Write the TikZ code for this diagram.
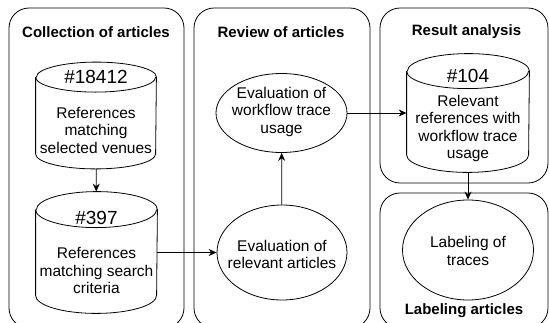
\documentclass[tikz,border=0pt]{standalone}
\usepackage{fontspec}
\setmainfont{Liberation Sans}
\usetikzlibrary{shapes.geometric,arrows.meta}

\newcommand{\bodyfont}{\fontsize{15.5}{17.5}\selectfont}
\newcommand{\numfont}{\fontsize{19}{22}\selectfont}

\tikzset{
  panel/.style={draw,rounded corners=20pt,inner sep=0pt},
  title/.style={font=\fontsize{15}{17}\selectfont\bfseries},
  db/.style={rectangle,inner sep=0pt},
  task/.style={ellipse,draw,inner sep=0pt},
  intext/.style={align=center,font=\bodyfont},
}

\begin{document}
\begin{tikzpicture}[x=1pt,y=-1pt,line width=0.8pt,>={Stealth[length=8pt,width=7pt]}]
\useasboundingbox (0,0) rectangle (549,322);

% the four phases
\node[panel,minimum width=175pt,minimum height=320pt] (collect) at (96.5,168) {};
\node[panel,minimum width=176pt,minimum height=320pt] (review) at (282,168) {};
\node[panel,minimum width=168pt,minimum height=175pt] (result) at (464,95.5) {};
\node[panel,minimum width=168pt,minimum height=135pt] (labeling) at (464,260.5) {};

\node[title] (tcollect) at (96,32) {Collection of articles};
\node[title] (treview) at (281,32) {Review of articles};
\node[title] (tresult) at (466.5,32) {Result analysis};
\node[title] (tlabeling) at (464,311) {Labeling articles};

% data stores
\node[db,minimum width=120pt,minimum height=106pt,
  label={[intext,yshift=3.5pt]center:{\numfont\#18412}\\[17pt]References\\matching\\selected venues}]
  (venues) at (96,115.5) {};
\node[db,minimum width=121pt,minimum height=121pt,
  label={[intext,yshift=0pt]center:{\numfont\#397}\\[17pt]References\\matching search\\criteria}]
  (search) at (96.5,252.5) {};
\node[db,minimum width=122pt,minimum height=118pt,
  label={[intext,yshift=-2.5pt]center:{\numfont\#104}\\[6pt]Relevant\\references with\\workflow trace\\usage}]
  (relevant) at (468,113) {};

\foreach \n/\r/\h in {venues/60pt/15pt,search/60.5pt/18pt,relevant/61pt/17.5pt}
{
	\draw ([yshift=-\h]\n.north west) -- ([yshift=\h]\n.south west)
		arc[start angle=180,end angle=360,x radius=\r,y radius=\h]
		-- ([yshift=-\h]\n.north east)
		arc[start angle=0,end angle=180,x radius=\r,y radius=\h];
	\draw ([yshift=-\h]\n.north west)
		arc[start angle=180,end angle=360,x radius=\r,y radius=\h];
}

% tasks
\node[task,minimum width=131pt,minimum height=79pt,
  label={[intext,yshift=1.5pt]center:Evaluation of\\workflow trace\\usage}]
  (usage) at (281.5,113) {};
\node[task,minimum width=130pt,minimum height=95pt,
  label={[intext,yshift=-2pt]center:Evaluation of\\relevant articles}]
  (articles) at (282,252.5) {};
\node[task,minimum width=131pt,minimum height=100pt,
  label={[intext,yshift=-1pt]center:Labeling of\\traces}]
  (traces) at (468,250) {};

\draw[->] (venues) -- (search);
\draw[->] (search.east |- articles) -- (articles);
\draw[->] (articles) -- (usage);
\draw[->] (usage) -- (relevant);
\draw[->] (relevant) -- (traces);
\end{tikzpicture}
\end{document}
